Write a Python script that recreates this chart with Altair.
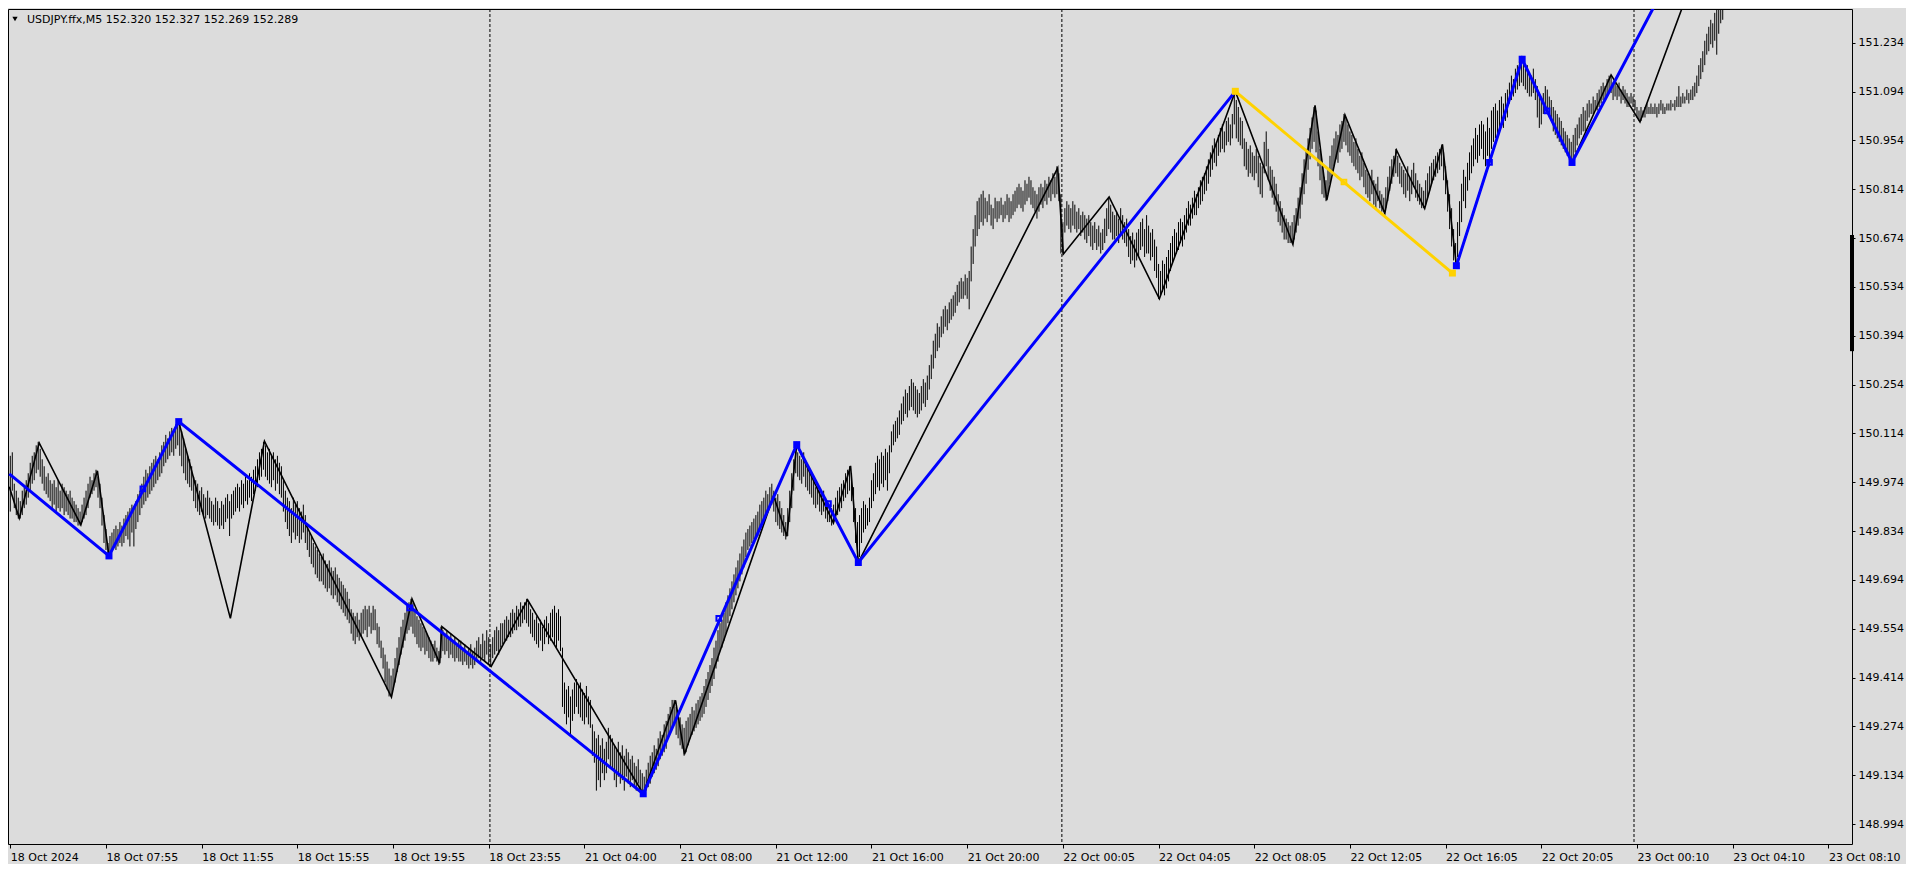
import altair as alt
import pandas as pd

# ---- bar data (M5 bars, index = bar number from 18 Oct 00:00) ----
bar_high = [
150.05,150.06,149.97,149.95,149.93,149.92,149.95,149.96,149.98,150.00,
150.03,150.05,150.06,150.08,150.09,150.07,150.04,150.02,149.99,150.00,
149.98,149.97,149.98,149.96,149.98,149.95,149.97,149.96,149.95,149.94,
149.95,149.93,149.92,149.91,149.90,149.89,149.91,149.93,149.95,149.97,
149.99,149.98,150.00,150.01,149.99,149.97,149.93,149.88,149.84,149.80,
149.82,149.83,149.84,149.85,149.84,149.86,149.85,149.87,149.88,149.89,
149.90,149.91,149.90,149.92,149.94,149.95,149.97,149.99,150.01,150.00,
150.02,150.03,150.04,150.05,150.04,150.06,150.08,150.09,150.11,150.10,
150.12,150.13,150.12,150.14,150.15,150.14,150.12,150.10,150.07,150.05,
150.04,150.02,149.99,149.98,149.97,149.95,149.96,149.94,149.93,149.95,
149.93,149.92,149.91,149.93,149.92,149.90,149.92,149.91,149.93,149.94,
149.92,149.94,149.95,149.96,149.97,149.96,149.98,149.97,149.99,149.98,
150.00,149.99,150.01,150.02,150.04,150.06,150.07,150.09,150.08,150.06,
150.07,150.05,150.06,150.04,150.05,150.03,150.02,149.98,149.95,149.93,
149.92,149.90,149.93,149.91,149.92,149.90,149.89,149.91,149.88,149.85,
149.83,149.82,149.80,149.79,149.78,149.77,149.76,149.77,149.75,149.74,
149.75,149.73,149.72,149.73,149.71,149.70,149.69,149.68,149.67,149.66,
149.64,149.61,149.60,149.59,149.60,149.58,149.60,149.61,149.62,149.61,
149.62,149.60,149.62,149.61,149.57,149.56,149.52,149.50,149.48,149.46,
149.44,149.42,149.44,149.47,149.50,149.53,149.56,149.58,149.60,149.62,
149.63,149.64,149.63,149.61,149.59,149.58,149.57,149.56,149.55,149.54,
149.53,149.52,149.51,149.52,149.50,149.49,149.56,149.55,149.54,149.55,
149.53,149.54,149.52,149.53,149.51,149.52,149.52,149.50,149.51,149.49,
149.50,149.51,149.49,149.50,149.52,149.53,149.51,149.54,149.52,149.55,
149.53,149.51,149.53,149.55,149.56,149.55,149.57,149.57,149.58,149.59,
149.58,149.60,149.61,149.60,149.62,149.61,149.63,149.62,149.63,149.64,
149.63,149.61,149.60,149.58,149.59,149.57,149.58,149.56,149.58,149.59,
149.57,149.60,149.61,149.62,149.60,149.61,149.59,149.50,149.40,149.38,
149.39,149.36,149.38,149.40,149.41,149.39,149.40,149.38,149.37,149.39,
149.36,149.35,149.28,149.26,149.24,149.25,149.22,149.24,149.21,149.23,
149.27,149.25,149.24,149.22,149.21,149.23,149.20,149.22,149.19,149.21,
149.20,149.18,149.19,149.17,149.16,149.18,149.15,149.14,149.13,149.15,
149.17,149.19,149.20,149.22,149.21,149.24,149.26,149.25,149.28,149.29,
149.31,149.33,149.35,149.35,149.33,149.32,149.30,149.28,149.27,149.29,
149.30,149.31,149.33,149.32,149.34,149.35,149.36,149.37,149.39,149.41,
149.43,149.45,149.47,149.50,149.52,149.55,149.57,149.58,149.60,149.63,
149.65,149.67,149.69,149.71,149.73,149.75,149.77,149.79,149.81,149.83,
149.84,149.85,149.86,149.87,149.88,149.89,149.91,149.92,149.93,149.95,
149.94,149.96,149.97,149.95,149.93,149.94,149.92,149.90,149.88,149.86,
149.90,149.95,150.00,150.04,150.08,150.06,150.05,150.04,150.06,150.03,
150.02,150.00,149.99,149.98,149.96,149.97,149.95,149.94,149.95,149.93,
149.92,149.91,149.90,149.91,149.93,149.95,149.96,149.97,149.98,150.00,
150.01,150.02,150.00,149.96,149.90,149.86,149.88,149.90,149.92,149.91,
149.90,149.93,149.98,150.00,150.03,150.05,150.04,150.06,150.05,150.07,
150.06,150.08,150.12,150.14,150.15,150.16,150.18,150.20,150.22,150.24,
150.23,150.25,150.27,150.26,150.25,150.24,150.23,150.25,150.27,150.26,
150.28,150.31,150.34,150.38,150.40,150.43,150.42,150.45,150.47,150.48,
150.47,150.49,150.50,150.51,150.52,150.54,150.55,150.56,150.55,150.57,
150.56,150.58,150.65,150.70,150.74,150.78,150.79,150.80,150.81,150.79,
150.78,150.80,150.77,150.76,150.79,150.78,150.78,150.79,150.77,150.78,
150.80,150.79,150.78,150.80,150.81,150.82,150.83,150.82,150.81,150.84,
150.83,150.85,150.84,150.82,150.81,150.80,150.82,150.83,150.82,150.84,
150.83,150.85,150.84,150.86,150.85,150.88,150.86,150.80,150.72,150.76,
150.78,150.77,150.76,150.78,150.77,150.75,150.76,150.74,150.75,150.74,
150.73,150.74,150.72,150.71,150.72,150.70,150.71,150.69,150.70,150.73,
150.76,150.79,150.77,150.75,150.74,150.75,150.73,150.76,150.74,150.72,
150.73,150.70,150.68,150.69,150.67,150.69,150.70,150.72,150.73,150.70,
150.74,150.71,150.69,150.70,150.67,150.65,150.60,150.58,150.61,150.60,
150.62,150.64,150.66,150.68,150.70,150.69,150.72,150.73,150.72,150.74,
150.76,150.78,150.77,150.79,150.81,150.80,150.82,150.84,150.85,150.86,
150.88,150.90,150.92,150.94,150.96,150.95,150.97,150.99,151.00,150.98,
151.01,151.02,151.00,151.03,151.10,151.07,151.05,151.02,151.01,150.96,
150.95,150.93,150.94,150.92,150.91,150.93,150.91,150.89,150.88,150.95,
150.98,150.93,150.88,150.87,150.85,150.83,150.80,150.78,150.76,150.74,
150.73,150.72,150.71,150.72,150.74,150.76,150.79,150.82,150.86,150.90,
150.93,150.96,150.99,151.02,151.05,151.04,150.98,150.93,150.88,150.85,
150.84,150.87,150.91,150.94,150.96,150.98,150.97,151.00,151.01,151.03,
151.02,151.00,150.98,150.97,150.95,150.96,150.93,150.91,150.92,150.89,
150.87,150.86,150.85,150.87,150.84,150.83,150.85,150.81,150.80,150.79,
150.82,150.85,150.88,150.90,150.91,150.93,150.91,150.89,150.88,150.87,
150.86,150.88,150.85,150.87,150.89,150.86,150.84,150.83,150.82,150.81,
150.84,150.86,150.88,150.89,150.90,150.91,150.92,150.93,150.94,150.92,
150.88,150.84,150.80,150.76,150.70,150.66,150.72,150.78,150.83,150.87,
150.85,150.89,150.92,150.94,150.96,150.99,150.97,151.00,151.01,151.00,
150.98,151.02,150.99,151.04,151.05,151.06,151.04,151.07,151.08,151.06,
151.09,151.10,151.12,151.14,151.13,151.16,151.17,151.18,151.19,151.18,
151.16,151.17,151.15,151.14,151.16,151.13,151.11,151.08,151.07,151.09,
151.11,151.10,151.08,151.07,151.05,151.04,151.03,151.02,151.01,150.99,
150.98,150.97,150.96,150.95,150.97,150.99,151.00,151.02,151.03,151.05,
151.04,151.06,151.07,151.06,151.08,151.07,151.09,151.10,151.11,151.12,
151.11,151.13,151.14,151.14,151.12,151.13,151.11,151.12,151.10,151.11,
151.10,151.09,151.08,151.09,151.08,151.07,151.05,151.04,151.05,151.04,
151.05,151.06,151.05,151.06,151.05,151.06,151.05,151.06,151.07,151.06,
151.05,151.06,151.06,151.07,151.06,151.07,151.08,151.11,151.08,151.09,
151.08,151.10,151.09,151.10,151.11,151.12,151.14,151.17,151.19,151.21,
151.24,151.26,151.28,151.30,151.29,151.32,151.36,151.38,151.40,151.42,
]
bar_low = [
149.89,149.95,149.90,149.88,149.87,149.87,149.88,149.90,149.91,149.93,
149.95,149.97,149.98,150.00,150.01,149.99,149.97,149.95,149.94,149.93,
149.92,149.90,149.91,149.89,149.90,149.89,149.90,149.88,149.89,149.88,
149.87,149.87,149.86,149.86,149.85,149.85,149.86,149.87,149.88,149.90,
149.93,149.94,149.95,149.96,149.93,149.90,149.85,149.80,149.78,149.76,
149.77,149.78,149.79,149.78,149.79,149.80,149.79,149.80,149.82,149.81,
149.79,149.83,149.79,149.84,149.86,149.88,149.90,149.91,149.92,149.93,
149.94,149.95,149.96,149.97,149.98,149.99,150.00,150.02,150.03,150.04,
150.05,150.06,150.05,150.07,150.08,150.05,150.02,150.00,149.98,149.97,
149.96,149.95,149.92,149.90,149.89,149.88,149.89,149.88,149.87,149.88,
149.87,149.86,149.85,149.86,149.85,149.84,149.85,149.84,149.86,149.87,
149.82,149.87,149.88,149.89,149.90,149.89,149.91,149.90,149.92,149.91,
149.93,149.92,149.94,149.95,149.96,149.98,149.99,150.01,149.99,149.98,
149.97,149.96,149.98,149.95,149.97,149.94,149.93,149.89,149.86,149.84,
149.82,149.80,149.83,149.81,149.82,149.80,149.81,149.83,149.80,149.78,
149.76,149.74,149.73,149.71,149.70,149.69,149.69,149.68,149.67,149.66,
149.67,149.65,149.64,149.65,149.63,149.62,149.61,149.60,149.59,149.58,
149.57,149.54,149.52,149.51,149.53,149.52,149.53,149.54,149.55,149.53,
149.56,149.54,149.55,149.55,149.51,149.50,149.47,149.44,149.40,149.38,
149.36,149.36,149.38,149.40,149.43,149.45,149.48,149.50,149.52,149.54,
149.55,149.56,149.54,149.53,149.51,149.50,149.49,149.50,149.48,149.49,
149.47,149.46,149.46,149.47,149.46,149.45,149.47,149.49,149.48,149.49,
149.47,149.48,149.47,149.46,149.47,149.46,149.46,149.45,149.46,149.45,
149.44,149.45,149.44,149.45,149.46,149.47,149.46,149.47,149.46,149.48,
149.45,149.45,149.47,149.48,149.49,149.48,149.50,149.51,149.52,149.52,
149.53,149.53,149.54,149.55,149.55,149.56,149.56,149.57,149.58,149.57,
149.56,149.54,149.53,149.52,149.51,149.50,149.52,149.49,149.51,149.53,
149.51,149.52,149.53,149.51,149.50,149.52,149.49,149.33,149.31,149.28,
149.30,149.25,149.29,149.31,149.33,149.31,149.30,149.29,149.28,149.30,
149.28,149.27,149.19,149.17,149.09,149.12,149.10,149.14,149.12,149.14,
149.18,149.16,149.15,149.12,149.10,149.13,149.11,149.12,149.09,149.13,
149.11,149.10,149.12,149.10,149.09,149.11,149.09,149.08,149.08,149.09,
149.10,149.11,149.13,149.14,149.15,149.16,149.18,149.19,149.20,149.21,
149.24,149.26,149.27,149.28,149.25,149.24,149.22,149.21,149.19,149.20,
149.22,149.24,149.25,149.26,149.27,149.28,149.29,149.30,149.31,149.33,
149.35,149.37,149.39,149.41,149.44,149.46,149.49,149.50,149.52,149.54,
149.57,149.59,149.61,149.63,149.65,149.67,149.69,149.71,149.73,149.76,
149.78,149.79,149.80,149.81,149.82,149.82,149.84,149.86,149.87,149.88,
149.89,149.90,149.91,149.89,149.86,149.85,149.84,149.83,149.82,149.81,
149.82,149.86,149.90,149.95,150.00,149.99,149.98,149.97,149.99,149.96,
149.95,149.94,149.93,149.91,149.90,149.91,149.89,149.88,149.89,149.87,
149.86,149.86,149.85,149.86,149.87,149.88,149.89,149.90,149.92,149.93,
149.94,149.95,149.92,149.86,149.80,149.75,149.76,149.80,149.83,149.84,
149.85,149.86,149.90,149.92,149.94,149.96,149.95,149.97,149.96,149.98,
149.95,150.00,150.06,150.08,150.09,150.10,150.11,150.14,150.15,150.17,
150.16,150.18,150.19,150.18,150.17,150.16,150.17,150.18,150.20,150.19,
150.21,150.24,150.27,150.30,150.33,150.35,150.36,150.39,150.40,150.42,
150.41,150.43,150.44,150.45,150.46,150.48,150.49,150.50,150.50,150.51,
150.50,150.47,150.55,150.60,150.65,150.68,150.70,150.72,150.71,150.73,
150.72,150.74,150.71,150.70,150.73,150.72,150.73,150.74,150.72,150.73,
150.74,150.72,150.73,150.74,150.75,150.76,150.77,150.76,150.75,150.77,
150.78,150.79,150.77,150.76,150.75,150.73,150.75,150.77,150.76,150.78,
150.77,150.79,150.78,150.80,150.79,150.80,150.78,150.63,150.63,150.69,
150.71,150.70,150.69,150.71,150.70,150.69,150.70,150.68,150.69,150.67,
150.66,150.68,150.65,150.64,150.66,150.64,150.65,150.63,150.64,150.66,
150.68,150.70,150.69,150.67,150.67,150.68,150.66,150.68,150.67,150.66,
150.65,150.62,150.60,150.61,150.59,150.61,150.62,150.64,150.65,150.62,
150.63,150.63,150.61,150.62,150.58,150.56,150.50,150.51,150.52,150.51,
150.53,150.55,150.58,150.60,150.62,150.63,150.64,150.66,150.65,150.67,
150.69,150.71,150.71,150.73,150.74,150.74,150.76,150.77,150.78,150.80,
150.81,150.83,150.85,150.87,150.89,150.88,150.91,150.92,150.93,150.92,
150.94,150.95,150.94,150.96,151.00,150.96,150.95,150.94,150.93,150.88,
150.87,150.85,150.86,150.85,150.84,150.86,150.82,150.80,150.79,150.86,
150.88,150.84,150.81,150.79,150.77,150.75,150.72,150.71,150.69,150.67,
150.67,150.66,150.66,150.66,150.67,150.69,150.71,150.73,150.77,150.80,
150.83,150.87,150.90,150.93,150.95,150.92,150.88,150.84,150.80,150.79,
150.78,150.80,150.83,150.86,150.88,150.90,150.89,150.92,150.93,150.95,
150.94,150.92,150.91,150.89,150.88,150.87,150.86,150.84,150.85,150.82,
150.80,150.79,150.78,150.80,150.77,150.76,150.78,150.76,150.75,150.75,
150.76,150.78,150.81,150.83,150.85,150.86,150.85,150.83,150.82,150.80,
150.79,150.81,150.78,150.80,150.82,150.79,150.78,150.77,150.76,150.76,
150.77,150.79,150.81,150.83,150.84,150.85,150.86,150.87,150.88,150.84,
150.80,150.75,150.70,150.65,150.61,150.60,150.62,150.68,150.72,150.78,
150.76,150.81,150.84,150.86,150.88,150.90,150.89,150.91,150.93,150.90,
150.88,150.91,150.88,150.93,150.95,150.96,150.96,150.98,151.00,150.99,
151.01,151.02,151.06,151.07,151.08,151.09,151.10,151.11,151.12,151.11,
151.10,151.09,151.08,151.08,151.09,151.07,151.02,150.99,151.00,151.03,
151.04,151.03,151.02,151.01,150.98,150.97,150.96,150.95,150.94,150.93,
150.92,150.91,150.90,150.89,150.90,150.92,150.94,150.96,150.97,150.98,
150.98,151.01,151.02,151.03,151.03,151.04,151.04,151.05,151.06,151.07,
151.07,151.08,151.09,151.09,151.07,151.08,151.07,151.08,151.06,151.07,
151.06,151.05,151.05,151.06,151.05,151.04,151.02,151.01,151.01,151.02,
151.02,151.03,151.03,151.03,151.03,151.03,151.02,151.03,151.04,151.03,
151.03,151.04,151.04,151.04,151.05,151.04,151.05,151.05,151.05,151.06,
151.06,151.07,151.06,151.07,151.07,151.08,151.09,151.11,151.13,151.15,
151.17,151.20,151.21,151.23,151.22,151.24,151.20,151.26,151.29,151.30,
]

# ---- zigzag (black) pivots ----
black_i = [-0.5, 4.5, 14.5, 35.4, 43.7, 49.5, 84.5, 110.4, 127.5, 191.2, 201.5, 215.4,
           216.5, 241.2, 259.5, 317.5, 333.7, 338.2, 382.9, 389.5, 394.5, 412.9, 421.5,
           425.4, 525.4, 528.2, 551.2, 576.4, 614.5, 643.4, 654.5, 660.4, 669.5, 689.5,
           695.4, 709.5, 718.4, 725.4, 758.4, 783.4, 803.0, 817.5, 850.0]
black_p = [149.961, 149.871, 150.087, 149.852, 150.007, 149.763, 150.148, 149.584, 150.092,
           149.358, 149.640, 149.455, 149.560, 149.446, 149.637, 149.081, 149.349, 149.194,
           149.936, 149.819, 150.082, 149.857, 150.021, 149.744, 150.875, 150.628, 150.792,
           150.500, 151.095, 150.656, 151.055, 150.783, 151.027, 150.745, 150.926, 150.759,
           150.943, 150.595, 151.187, 150.891, 151.142, 151.007, 151.510]

# ---- higher-degree zigzag (blue / yellow) ----
blue_a_i = [-0.5, 49.5, 84.5, 317.5, 394.5, 425.4, 614.5]
blue_a_p = [149.998, 149.763, 150.148, 149.081, 150.082, 149.744, 151.095]
blue_b_i = [725.4, 758.4, 783.4, 845.0]
blue_b_p = [150.595, 151.187, 150.891, 151.560]
yellow_i = [614.5, 723.4]
yellow_p = [151.095, 150.574]

blue_sq_i = [49.5, 84.5, 317.5, 394.5, 425.4, 725.4, 758.4, 783.4]
blue_sq_p = [149.763, 150.148, 149.081, 150.082, 149.744, 150.595, 151.187, 150.891]
blue_mid_i = [66.5, 200.4, 355.4, 410.4, 742.0, 770.9]
blue_mid_p = [149.955, 149.614, 149.584, 149.913, 150.891, 151.039]
yellow_sq_i = [614.5, 723.4]
yellow_sq_p = [151.095, 150.574]
yellow_mid_i = [669.0]
yellow_mid_p = [150.835]

# ---- day separators, axis ticks ----
sep_i = [240.6, 527.5, 814.5]
x_tick_vals = [0, 48, 96, 144, 192, 240, 288, 336, 384, 432, 480, 528, 576, 624, 672, 720,
               768, 816, 864, 912]
x_tick_labels = ["18 Oct 2024", "18 Oct 07:55", "18 Oct 11:55", "18 Oct 15:55", "18 Oct 19:55",
                 "18 Oct 23:55", "21 Oct 04:00", "21 Oct 08:00", "21 Oct 12:00", "21 Oct 16:00",
                 "21 Oct 20:00", "22 Oct 00:05", "22 Oct 04:05", "22 Oct 08:05", "22 Oct 12:05",
                 "22 Oct 16:05", "22 Oct 20:05", "23 Oct 00:10", "23 Oct 04:10", "23 Oct 08:10"]
y_tick_vals = [148.994, 149.134, 149.274, 149.414, 149.554, 149.694, 149.834, 149.974,
               150.114, 150.254, 150.394, 150.534, 150.674, 150.814, 150.954, 151.094, 151.234]
x_domain = [-1.15, 923.85]
y_domain = [148.937, 151.331]
scale_marker = {"i": [923.85], "lo": [150.350], "hi": [150.683]}
title_text = "USDJPY.ffx,M5  152.320 152.327 152.269 152.289"

FONT = "DejaVu Sans"
BG = "#DCDCDC"

bars = pd.DataFrame({"i": list(range(len(bar_high))), "hi": bar_high, "lo": bar_low})
black = pd.DataFrame({"i": black_i, "p": black_p})
blue = pd.concat([
    pd.DataFrame({"i": blue_a_i, "p": blue_a_p, "seg": "a"}),
    pd.DataFrame({"i": blue_b_i, "p": blue_b_p, "seg": "b"}),
])
yellow = pd.DataFrame({"i": yellow_i, "p": yellow_p})
bsq = pd.DataFrame({"i": blue_sq_i, "p": blue_sq_p})
bmid = pd.DataFrame({"i": blue_mid_i, "p": blue_mid_p})
ysq = pd.DataFrame({"i": yellow_sq_i, "p": yellow_sq_p})
ymid = pd.DataFrame({"i": yellow_mid_i, "p": yellow_mid_p})
seps = pd.DataFrame({"i": sep_i})
marker = pd.DataFrame(scale_marker)
title_df = pd.DataFrame({"t": [title_text]})

xs = alt.Scale(domain=x_domain, nice=False, zero=False)
ys = alt.Scale(domain=y_domain, nice=False, zero=False)

label_arr = "[" + ",".join("'%s'" % s for s in x_tick_labels) + "]"
x_axis = alt.Axis(values=x_tick_vals, labelExpr=label_arr + "[round(datum.value/48)]",
                  labelAlign="left", labelPadding=3, tickSize=4, tickColor="black",
                  labelColor="black", labelFont=FONT, labelFontSize=11, domain=False,
                  grid=False, title=None, labelOverlap=False, labelFlush=False)
y_axis = alt.Axis(orient="right", values=y_tick_vals, format=".3f", tickSize=3,
                  tickColor="black", labelColor="black", labelFont=FONT, labelFontSize=11,
                  labelPadding=3, domain=False, grid=False, title=None, labelOverlap=False)


def X(field):
    return alt.X(field, scale=xs, axis=x_axis)


def Y(field):
    return alt.Y(field, scale=ys, axis=y_axis)


bar_layer = alt.Chart(bars).mark_rule(color="black", strokeWidth=1, clip=True).encode(
    x=X("i:Q"), y=Y("lo:Q"), y2="hi:Q",
)

sep_layer = alt.Chart(seps).mark_rule(color="black", strokeWidth=1, strokeDash=[3, 2]).encode(
    x=X("i:Q")
)

black_layer = alt.Chart(black).mark_line(color="black", strokeWidth=1.6, clip=True).encode(
    x=X("i:Q"), y=Y("p:Q"), order="i:Q",
)

blue_layer = alt.Chart(blue).mark_line(color="#0000FF", strokeWidth=3, clip=True).encode(
    x=X("i:Q"), y=Y("p:Q"), detail="seg:N", order="i:Q",
)

yellow_layer = alt.Chart(yellow).mark_line(color="#FFD200", strokeWidth=3, clip=True).encode(
    x=X("i:Q"), y=Y("p:Q"),
)


def squares(df, color, size, filled, sw=0):
    kw = dict(shape="square", size=size, filled=filled, color=color, opacity=1, clip=True)
    if not filled:
        kw["strokeWidth"] = sw
    return alt.Chart(df).mark_point(**kw).encode(x=X("i:Q"), y=Y("p:Q"))


marker_layer = alt.Chart(marker).mark_rule(color="black", strokeWidth=4).encode(
    x=X("i:Q"), y=Y("lo:Q"), y2="hi:Q",
)

tri_layer = alt.Chart(title_df).mark_point(shape="triangle-down", filled=True, color="black",
                                           size=28, opacity=1).encode(
    x=alt.value(7), y=alt.value(10)
)
title_layer = alt.Chart(title_df).mark_text(align="left", baseline="middle", font=FONT,
                                            fontSize=11, color="black").encode(
    x=alt.value(19), y=alt.value(11), text="t:N"
)

chart = alt.layer(
    bar_layer, sep_layer, black_layer, blue_layer, yellow_layer,
    squares(bsq, "#0000FF", 49, True),
    squares(bmid, "#0000FF", 22, False, 2),
    squares(ysq, "#FFD200", 49, True),
    squares(ymid, "#FFD200", 22, False, 2),
    marker_layer, tri_layer, title_layer,
).properties(
    width=1898, height=856,
    autosize=alt.AutoSizeParams(type="fit", contains="padding"),
    padding={"left": 0, "top": 0, "right": 2, "bottom": 2},
    background=BG,
).configure_view(
    stroke="black", strokeWidth=1, fill=BG
)

chart.save("out.html", embed_options={"renderer": "svg", "actions": False})
